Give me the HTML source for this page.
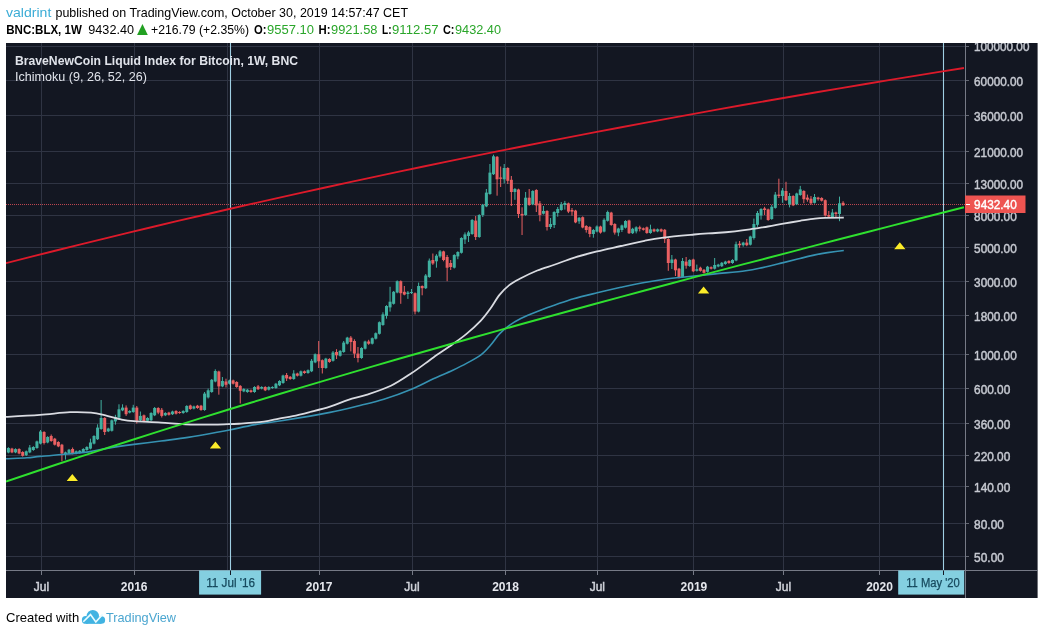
<!DOCTYPE html>
<html><head><meta charset="utf-8"><title>BNC:BLX chart</title>
<style>html,body{margin:0;padding:0;background:#fff}body{width:1044px;height:635px;overflow:hidden}</style></head>
<body>
<svg width="1044" height="635" viewBox="0 0 1044 635" style="display:block">
<rect x="0" y="0" width="1044" height="635" fill="#fff"/>
<rect x="6" y="43" width="1031.6" height="555" fill="#131722"/>
<g stroke="#2f3443" stroke-width="1" shape-rendering="crispEdges">
<line x1="41.5" y1="43" x2="41.5" y2="570.5"/>
<line x1="134.3" y1="43" x2="134.3" y2="570.5"/>
<line x1="227.5" y1="43" x2="227.5" y2="570.5"/>
<line x1="319.4" y1="43" x2="319.4" y2="570.5"/>
<line x1="412.5" y1="43" x2="412.5" y2="570.5"/>
<line x1="505.5" y1="43" x2="505.5" y2="570.5"/>
<line x1="597.5" y1="43" x2="597.5" y2="570.5"/>
<line x1="693.9" y1="43" x2="693.9" y2="570.5"/>
<line x1="783.5" y1="43" x2="783.5" y2="570.5"/>
<line x1="879.5" y1="43" x2="879.5" y2="570.5"/>
<line x1="6" y1="46.5" x2="965.5" y2="46.5"/>
<line x1="6" y1="80.4" x2="965.5" y2="80.4"/>
<line x1="6" y1="115.4" x2="965.5" y2="115.4"/>
<line x1="6" y1="151.4" x2="965.5" y2="151.4"/>
<line x1="6" y1="183.4" x2="965.5" y2="183.4"/>
<line x1="6" y1="215.4" x2="965.5" y2="215.4"/>
<line x1="6" y1="247.4" x2="965.5" y2="247.4"/>
<line x1="6" y1="281.6" x2="965.5" y2="281.6"/>
<line x1="6" y1="315.8" x2="965.5" y2="315.8"/>
<line x1="6" y1="354.5" x2="965.5" y2="354.5"/>
<line x1="6" y1="388.5" x2="965.5" y2="388.5"/>
<line x1="6" y1="423.8" x2="965.5" y2="423.8"/>
<line x1="6" y1="455.8" x2="965.5" y2="455.8"/>
<line x1="6" y1="486.9" x2="965.5" y2="486.9"/>
<line x1="6" y1="523.6" x2="965.5" y2="523.6"/>
<line x1="6" y1="556.2" x2="965.5" y2="556.2"/>
</g>
<clipPath id="cp"><rect x="6" y="43" width="959.5" height="527.5"/></clipPath>
<g clip-path="url(#cp)">
<line x1="6" y1="204.5" x2="965.5" y2="204.5" stroke="#e8525c" stroke-opacity="0.8" stroke-width="1" stroke-dasharray="1 1"/>
<line x1="8.40" y1="447.2" x2="8.40" y2="453.3" stroke="#40b0a0" stroke-width="1"/>
<rect x="6.90" y="448.0" width="3" height="4.5" fill="#40b0a0"/>
<line x1="11.97" y1="447.8" x2="11.97" y2="453.2" stroke="#ea6062" stroke-width="1"/>
<rect x="10.47" y="448.6" width="3" height="3.8" fill="#ea6062"/>
<line x1="15.53" y1="448.3" x2="15.53" y2="453.2" stroke="#40b0a0" stroke-width="1"/>
<rect x="14.03" y="449.1" width="3" height="3.3" fill="#40b0a0"/>
<line x1="19.10" y1="448.2" x2="19.10" y2="454.3" stroke="#ea6062" stroke-width="1"/>
<rect x="17.60" y="449.0" width="3" height="4.5" fill="#ea6062"/>
<line x1="22.67" y1="451.2" x2="22.67" y2="456.6" stroke="#ea6062" stroke-width="1"/>
<rect x="21.17" y="452.0" width="3" height="3.8" fill="#ea6062"/>
<line x1="26.23" y1="450.5" x2="26.23" y2="456.0" stroke="#40b0a0" stroke-width="1"/>
<rect x="24.73" y="451.3" width="3" height="3.9" fill="#40b0a0"/>
<line x1="29.80" y1="445.0" x2="29.80" y2="453.2" stroke="#40b0a0" stroke-width="1"/>
<rect x="28.30" y="447.5" width="3" height="4.9" fill="#40b0a0"/>
<line x1="33.37" y1="446.2" x2="33.37" y2="450.8" stroke="#40b0a0" stroke-width="1"/>
<rect x="31.87" y="447.0" width="3" height="3.0" fill="#40b0a0"/>
<line x1="36.94" y1="440.6" x2="36.94" y2="448.8" stroke="#40b0a0" stroke-width="1"/>
<rect x="35.44" y="441.4" width="3" height="6.6" fill="#40b0a0"/>
<line x1="40.50" y1="430.0" x2="40.50" y2="444.4" stroke="#40b0a0" stroke-width="1"/>
<rect x="39.00" y="431.5" width="3" height="12.1" fill="#40b0a0"/>
<line x1="44.07" y1="431.2" x2="44.07" y2="444.5" stroke="#ea6062" stroke-width="1"/>
<rect x="42.57" y="432.0" width="3" height="11.0" fill="#ea6062"/>
<line x1="47.64" y1="436.2" x2="47.64" y2="443.3" stroke="#40b0a0" stroke-width="1"/>
<rect x="46.14" y="437.0" width="3" height="5.5" fill="#40b0a0"/>
<line x1="51.20" y1="434.5" x2="51.20" y2="441.8" stroke="#ea6062" stroke-width="1"/>
<rect x="49.70" y="436.0" width="3" height="5.0" fill="#ea6062"/>
<line x1="54.77" y1="437.9" x2="54.77" y2="445.5" stroke="#ea6062" stroke-width="1"/>
<rect x="53.27" y="438.7" width="3" height="6.0" fill="#ea6062"/>
<line x1="58.34" y1="441.2" x2="58.34" y2="447.2" stroke="#ea6062" stroke-width="1"/>
<rect x="56.84" y="442.0" width="3" height="4.4" fill="#ea6062"/>
<line x1="61.91" y1="443.9" x2="61.91" y2="461.3" stroke="#ea6062" stroke-width="1"/>
<rect x="60.41" y="444.7" width="3" height="8.8" fill="#ea6062"/>
<line x1="65.47" y1="451.6" x2="65.47" y2="459.6" stroke="#40b0a0" stroke-width="1"/>
<rect x="63.97" y="452.4" width="3" height="1.6" fill="#40b0a0"/>
<line x1="69.04" y1="448.9" x2="69.04" y2="454.3" stroke="#40b0a0" stroke-width="1"/>
<rect x="67.54" y="449.7" width="3" height="3.8" fill="#40b0a0"/>
<line x1="72.61" y1="447.5" x2="72.61" y2="454.3" stroke="#ea6062" stroke-width="1"/>
<rect x="71.11" y="449.0" width="3" height="4.5" fill="#ea6062"/>
<line x1="76.17" y1="450.5" x2="76.17" y2="454.3" stroke="#40b0a0" stroke-width="1"/>
<rect x="74.67" y="451.3" width="3" height="2.2" fill="#40b0a0"/>
<line x1="79.74" y1="450.0" x2="79.74" y2="453.8" stroke="#40b0a0" stroke-width="1"/>
<rect x="78.24" y="450.8" width="3" height="2.2" fill="#40b0a0"/>
<line x1="83.31" y1="448.2" x2="83.31" y2="452.8" stroke="#40b0a0" stroke-width="1"/>
<rect x="81.81" y="449.0" width="3" height="3.0" fill="#40b0a0"/>
<line x1="86.87" y1="446.2" x2="86.87" y2="450.8" stroke="#40b0a0" stroke-width="1"/>
<rect x="85.37" y="447.0" width="3" height="3.0" fill="#40b0a0"/>
<line x1="90.44" y1="438.7" x2="90.44" y2="449.4" stroke="#40b0a0" stroke-width="1"/>
<rect x="88.94" y="442.5" width="3" height="6.1" fill="#40b0a0"/>
<line x1="94.01" y1="435.2" x2="94.01" y2="444.4" stroke="#40b0a0" stroke-width="1"/>
<rect x="92.51" y="436.0" width="3" height="7.6" fill="#40b0a0"/>
<line x1="97.58" y1="424.3" x2="97.58" y2="440.0" stroke="#40b0a0" stroke-width="1"/>
<rect x="96.08" y="427.6" width="3" height="11.6" fill="#40b0a0"/>
<line x1="101.14" y1="400.0" x2="101.14" y2="429.8" stroke="#40b0a0" stroke-width="1"/>
<rect x="99.64" y="418.0" width="3" height="11.0" fill="#40b0a0"/>
<line x1="104.71" y1="417.2" x2="104.71" y2="435.0" stroke="#ea6062" stroke-width="1"/>
<rect x="103.21" y="418.0" width="3" height="14.0" fill="#ea6062"/>
<line x1="108.28" y1="427.7" x2="108.28" y2="432.1" stroke="#40b0a0" stroke-width="1"/>
<rect x="106.78" y="428.5" width="3" height="2.8" fill="#40b0a0"/>
<line x1="111.84" y1="419.5" x2="111.84" y2="431.6" stroke="#40b0a0" stroke-width="1"/>
<rect x="110.34" y="420.3" width="3" height="10.5" fill="#40b0a0"/>
<line x1="115.41" y1="414.8" x2="115.41" y2="424.7" stroke="#40b0a0" stroke-width="1"/>
<rect x="113.91" y="417.0" width="3" height="4.4" fill="#40b0a0"/>
<line x1="118.98" y1="404.3" x2="118.98" y2="418.3" stroke="#40b0a0" stroke-width="1"/>
<rect x="117.48" y="409.3" width="3" height="8.2" fill="#40b0a0"/>
<line x1="122.54" y1="404.3" x2="122.54" y2="411.2" stroke="#40b0a0" stroke-width="1"/>
<rect x="121.04" y="407.6" width="3" height="2.8" fill="#40b0a0"/>
<line x1="126.11" y1="405.4" x2="126.11" y2="415.9" stroke="#ea6062" stroke-width="1"/>
<rect x="124.61" y="407.6" width="3" height="6.6" fill="#ea6062"/>
<line x1="129.68" y1="410.2" x2="129.68" y2="413.4" stroke="#40b0a0" stroke-width="1"/>
<rect x="128.18" y="411.0" width="3" height="1.6" fill="#40b0a0"/>
<line x1="133.25" y1="404.8" x2="133.25" y2="412.8" stroke="#40b0a0" stroke-width="1"/>
<rect x="131.75" y="407.6" width="3" height="4.4" fill="#40b0a0"/>
<line x1="136.81" y1="406.0" x2="136.81" y2="423.6" stroke="#ea6062" stroke-width="1"/>
<rect x="135.31" y="407.6" width="3" height="13.2" fill="#ea6062"/>
<line x1="140.38" y1="411.5" x2="140.38" y2="421.1" stroke="#40b0a0" stroke-width="1"/>
<rect x="138.88" y="415.9" width="3" height="4.4" fill="#40b0a0"/>
<line x1="143.95" y1="414.5" x2="143.95" y2="422.2" stroke="#ea6062" stroke-width="1"/>
<rect x="142.45" y="415.3" width="3" height="6.1" fill="#ea6062"/>
<line x1="147.51" y1="417.2" x2="147.51" y2="421.6" stroke="#40b0a0" stroke-width="1"/>
<rect x="146.01" y="418.0" width="3" height="2.8" fill="#40b0a0"/>
<line x1="151.08" y1="412.2" x2="151.08" y2="421.1" stroke="#40b0a0" stroke-width="1"/>
<rect x="149.58" y="413.0" width="3" height="7.3" fill="#40b0a0"/>
<line x1="154.65" y1="407.0" x2="154.65" y2="416.1" stroke="#40b0a0" stroke-width="1"/>
<rect x="153.15" y="408.0" width="3" height="7.3" fill="#40b0a0"/>
<line x1="158.21" y1="407.2" x2="158.21" y2="414.2" stroke="#ea6062" stroke-width="1"/>
<rect x="156.71" y="408.0" width="3" height="4.6" fill="#ea6062"/>
<line x1="161.78" y1="408.0" x2="161.78" y2="417.5" stroke="#ea6062" stroke-width="1"/>
<rect x="160.28" y="409.8" width="3" height="6.1" fill="#ea6062"/>
<line x1="165.35" y1="412.2" x2="165.35" y2="416.1" stroke="#40b0a0" stroke-width="1"/>
<rect x="163.85" y="413.0" width="3" height="2.3" fill="#40b0a0"/>
<line x1="168.92" y1="411.8" x2="168.92" y2="415.6" stroke="#ea6062" stroke-width="1"/>
<rect x="167.42" y="412.6" width="3" height="2.2" fill="#ea6062"/>
<line x1="172.48" y1="410.7" x2="172.48" y2="415.0" stroke="#40b0a0" stroke-width="1"/>
<rect x="170.98" y="411.5" width="3" height="2.7" fill="#40b0a0"/>
<line x1="176.05" y1="410.2" x2="176.05" y2="414.5" stroke="#ea6062" stroke-width="1"/>
<rect x="174.55" y="411.0" width="3" height="2.7" fill="#ea6062"/>
<line x1="179.62" y1="411.2" x2="179.62" y2="413.8" stroke="#ea6062" stroke-width="1"/>
<rect x="178.12" y="412.0" width="3" height="1.0" fill="#ea6062"/>
<line x1="183.18" y1="410.2" x2="183.18" y2="413.8" stroke="#40b0a0" stroke-width="1"/>
<rect x="181.68" y="411.0" width="3" height="2.0" fill="#40b0a0"/>
<line x1="186.75" y1="405.2" x2="186.75" y2="412.8" stroke="#40b0a0" stroke-width="1"/>
<rect x="185.25" y="406.0" width="3" height="6.0" fill="#40b0a0"/>
<line x1="190.32" y1="404.7" x2="190.32" y2="409.8" stroke="#ea6062" stroke-width="1"/>
<rect x="188.82" y="405.5" width="3" height="3.5" fill="#ea6062"/>
<line x1="193.88" y1="405.6" x2="193.88" y2="409.4" stroke="#40b0a0" stroke-width="1"/>
<rect x="192.38" y="406.4" width="3" height="2.2" fill="#40b0a0"/>
<line x1="197.45" y1="404.9" x2="197.45" y2="408.8" stroke="#ea6062" stroke-width="1"/>
<rect x="195.95" y="405.7" width="3" height="2.3" fill="#ea6062"/>
<line x1="201.02" y1="404.9" x2="201.02" y2="410.8" stroke="#ea6062" stroke-width="1"/>
<rect x="199.52" y="405.7" width="3" height="4.3" fill="#ea6062"/>
<line x1="204.59" y1="392.0" x2="204.59" y2="410.8" stroke="#40b0a0" stroke-width="1"/>
<rect x="203.09" y="393.6" width="3" height="16.4" fill="#40b0a0"/>
<line x1="208.15" y1="388.6" x2="208.15" y2="398.5" stroke="#40b0a0" stroke-width="1"/>
<rect x="206.65" y="390.3" width="3" height="7.1" fill="#40b0a0"/>
<line x1="211.72" y1="379.0" x2="211.72" y2="392.8" stroke="#40b0a0" stroke-width="1"/>
<rect x="210.22" y="379.8" width="3" height="12.2" fill="#40b0a0"/>
<line x1="215.29" y1="369.3" x2="215.29" y2="382.3" stroke="#40b0a0" stroke-width="1"/>
<rect x="213.79" y="371.0" width="3" height="10.5" fill="#40b0a0"/>
<line x1="218.85" y1="370.7" x2="218.85" y2="394.7" stroke="#ea6062" stroke-width="1"/>
<rect x="217.35" y="371.5" width="3" height="14.9" fill="#ea6062"/>
<line x1="222.42" y1="377.0" x2="222.42" y2="387.2" stroke="#40b0a0" stroke-width="1"/>
<rect x="220.92" y="381.0" width="3" height="5.4" fill="#40b0a0"/>
<line x1="225.99" y1="378.7" x2="225.99" y2="387.5" stroke="#ea6062" stroke-width="1"/>
<rect x="224.49" y="381.5" width="3" height="3.3" fill="#ea6062"/>
<line x1="229.55" y1="379.6" x2="229.55" y2="384.5" stroke="#40b0a0" stroke-width="1"/>
<rect x="228.05" y="380.4" width="3" height="3.3" fill="#40b0a0"/>
<line x1="233.12" y1="379.6" x2="233.12" y2="384.5" stroke="#ea6062" stroke-width="1"/>
<rect x="231.62" y="380.4" width="3" height="3.3" fill="#ea6062"/>
<line x1="236.69" y1="381.2" x2="236.69" y2="387.8" stroke="#ea6062" stroke-width="1"/>
<rect x="235.19" y="382.0" width="3" height="5.0" fill="#ea6062"/>
<line x1="240.26" y1="385.1" x2="240.26" y2="403.5" stroke="#ea6062" stroke-width="1"/>
<rect x="238.76" y="385.9" width="3" height="4.9" fill="#ea6062"/>
<line x1="243.82" y1="388.2" x2="243.82" y2="392.2" stroke="#40b0a0" stroke-width="1"/>
<rect x="242.32" y="389.0" width="3" height="2.4" fill="#40b0a0"/>
<line x1="247.39" y1="388.9" x2="247.39" y2="392.8" stroke="#40b0a0" stroke-width="1"/>
<rect x="245.89" y="389.7" width="3" height="2.3" fill="#40b0a0"/>
<line x1="250.96" y1="389.5" x2="250.96" y2="392.8" stroke="#ea6062" stroke-width="1"/>
<rect x="249.46" y="390.3" width="3" height="1.7" fill="#ea6062"/>
<line x1="254.52" y1="386.2" x2="254.52" y2="392.8" stroke="#40b0a0" stroke-width="1"/>
<rect x="253.02" y="387.0" width="3" height="5.0" fill="#40b0a0"/>
<line x1="258.09" y1="385.0" x2="258.09" y2="390.0" stroke="#ea6062" stroke-width="1"/>
<rect x="256.59" y="386.4" width="3" height="2.8" fill="#ea6062"/>
<line x1="261.66" y1="386.2" x2="261.66" y2="389.4" stroke="#40b0a0" stroke-width="1"/>
<rect x="260.16" y="387.0" width="3" height="1.6" fill="#40b0a0"/>
<line x1="265.22" y1="386.2" x2="265.22" y2="391.1" stroke="#ea6062" stroke-width="1"/>
<rect x="263.72" y="387.0" width="3" height="3.3" fill="#ea6062"/>
<line x1="268.79" y1="386.2" x2="268.79" y2="390.5" stroke="#40b0a0" stroke-width="1"/>
<rect x="267.29" y="387.0" width="3" height="2.7" fill="#40b0a0"/>
<line x1="272.36" y1="386.2" x2="272.36" y2="388.8" stroke="#40b0a0" stroke-width="1"/>
<rect x="270.86" y="387.0" width="3" height="1.0" fill="#40b0a0"/>
<line x1="275.93" y1="382.9" x2="275.93" y2="388.8" stroke="#40b0a0" stroke-width="1"/>
<rect x="274.43" y="383.7" width="3" height="4.3" fill="#40b0a0"/>
<line x1="279.49" y1="380.2" x2="279.49" y2="386.1" stroke="#40b0a0" stroke-width="1"/>
<rect x="277.99" y="381.0" width="3" height="4.3" fill="#40b0a0"/>
<line x1="283.06" y1="374.7" x2="283.06" y2="383.8" stroke="#40b0a0" stroke-width="1"/>
<rect x="281.56" y="375.5" width="3" height="7.5" fill="#40b0a0"/>
<line x1="286.63" y1="373.0" x2="286.63" y2="381.0" stroke="#ea6062" stroke-width="1"/>
<rect x="285.13" y="375.0" width="3" height="3.4" fill="#ea6062"/>
<line x1="290.19" y1="376.0" x2="290.19" y2="379.8" stroke="#ea6062" stroke-width="1"/>
<rect x="288.69" y="376.8" width="3" height="2.2" fill="#ea6062"/>
<line x1="293.76" y1="370.2" x2="293.76" y2="379.8" stroke="#40b0a0" stroke-width="1"/>
<rect x="292.26" y="373.5" width="3" height="5.5" fill="#40b0a0"/>
<line x1="297.33" y1="372.7" x2="297.33" y2="376.5" stroke="#ea6062" stroke-width="1"/>
<rect x="295.83" y="373.5" width="3" height="2.2" fill="#ea6062"/>
<line x1="300.89" y1="370.5" x2="300.89" y2="376.5" stroke="#40b0a0" stroke-width="1"/>
<rect x="299.39" y="371.3" width="3" height="4.4" fill="#40b0a0"/>
<line x1="304.46" y1="370.5" x2="304.46" y2="373.8" stroke="#ea6062" stroke-width="1"/>
<rect x="302.96" y="371.3" width="3" height="1.7" fill="#ea6062"/>
<line x1="308.03" y1="369.4" x2="308.03" y2="373.8" stroke="#40b0a0" stroke-width="1"/>
<rect x="306.53" y="370.2" width="3" height="2.8" fill="#40b0a0"/>
<line x1="311.59" y1="359.0" x2="311.59" y2="372.1" stroke="#40b0a0" stroke-width="1"/>
<rect x="310.09" y="360.8" width="3" height="10.5" fill="#40b0a0"/>
<line x1="315.16" y1="353.4" x2="315.16" y2="363.2" stroke="#40b0a0" stroke-width="1"/>
<rect x="313.66" y="354.2" width="3" height="8.2" fill="#40b0a0"/>
<line x1="318.73" y1="341.0" x2="318.73" y2="368.0" stroke="#ea6062" stroke-width="1"/>
<rect x="317.23" y="354.2" width="3" height="7.1" fill="#ea6062"/>
<line x1="322.30" y1="359.4" x2="322.30" y2="373.5" stroke="#ea6062" stroke-width="1"/>
<rect x="320.80" y="360.2" width="3" height="7.8" fill="#ea6062"/>
<line x1="325.86" y1="357.8" x2="325.86" y2="368.8" stroke="#40b0a0" stroke-width="1"/>
<rect x="324.36" y="358.6" width="3" height="9.4" fill="#40b0a0"/>
<line x1="329.43" y1="358.2" x2="329.43" y2="362.8" stroke="#ea6062" stroke-width="1"/>
<rect x="327.93" y="359.0" width="3" height="3.0" fill="#ea6062"/>
<line x1="333.00" y1="351.0" x2="333.00" y2="361.6" stroke="#40b0a0" stroke-width="1"/>
<rect x="331.50" y="352.5" width="3" height="8.3" fill="#40b0a0"/>
<line x1="336.56" y1="349.2" x2="336.56" y2="359.0" stroke="#ea6062" stroke-width="1"/>
<rect x="335.06" y="352.0" width="3" height="3.3" fill="#ea6062"/>
<line x1="340.13" y1="350.1" x2="340.13" y2="356.6" stroke="#40b0a0" stroke-width="1"/>
<rect x="338.63" y="350.9" width="3" height="4.9" fill="#40b0a0"/>
<line x1="343.70" y1="341.0" x2="343.70" y2="352.8" stroke="#40b0a0" stroke-width="1"/>
<rect x="342.20" y="342.6" width="3" height="9.4" fill="#40b0a0"/>
<line x1="347.26" y1="336.8" x2="347.26" y2="344.5" stroke="#40b0a0" stroke-width="1"/>
<rect x="345.76" y="337.6" width="3" height="6.1" fill="#40b0a0"/>
<line x1="350.83" y1="336.0" x2="350.83" y2="351.4" stroke="#ea6062" stroke-width="1"/>
<rect x="349.33" y="337.6" width="3" height="4.4" fill="#ea6062"/>
<line x1="354.40" y1="339.3" x2="354.40" y2="358.0" stroke="#ea6062" stroke-width="1"/>
<rect x="352.90" y="341.0" width="3" height="12.6" fill="#ea6062"/>
<line x1="357.97" y1="347.0" x2="357.97" y2="362.4" stroke="#ea6062" stroke-width="1"/>
<rect x="356.47" y="353.6" width="3" height="4.4" fill="#ea6062"/>
<line x1="361.53" y1="347.2" x2="361.53" y2="358.8" stroke="#40b0a0" stroke-width="1"/>
<rect x="360.03" y="348.0" width="3" height="10.0" fill="#40b0a0"/>
<line x1="365.10" y1="340.7" x2="365.10" y2="349.5" stroke="#40b0a0" stroke-width="1"/>
<rect x="363.60" y="341.5" width="3" height="7.2" fill="#40b0a0"/>
<line x1="368.67" y1="339.8" x2="368.67" y2="344.8" stroke="#ea6062" stroke-width="1"/>
<rect x="367.17" y="341.5" width="3" height="2.2" fill="#ea6062"/>
<line x1="372.23" y1="337.4" x2="372.23" y2="344.5" stroke="#40b0a0" stroke-width="1"/>
<rect x="370.73" y="338.2" width="3" height="5.5" fill="#40b0a0"/>
<line x1="375.80" y1="332.4" x2="375.80" y2="339.5" stroke="#40b0a0" stroke-width="1"/>
<rect x="374.30" y="333.2" width="3" height="5.5" fill="#40b0a0"/>
<line x1="379.37" y1="321.4" x2="379.37" y2="334.6" stroke="#40b0a0" stroke-width="1"/>
<rect x="377.87" y="322.2" width="3" height="11.6" fill="#40b0a0"/>
<line x1="382.94" y1="312.3" x2="382.94" y2="325.8" stroke="#40b0a0" stroke-width="1"/>
<rect x="381.44" y="314.4" width="3" height="10.6" fill="#40b0a0"/>
<line x1="386.50" y1="305.2" x2="386.50" y2="318.7" stroke="#40b0a0" stroke-width="1"/>
<rect x="385.00" y="306.0" width="3" height="9.9" fill="#40b0a0"/>
<line x1="390.07" y1="286.8" x2="390.07" y2="311.6" stroke="#40b0a0" stroke-width="1"/>
<rect x="388.57" y="301.7" width="3" height="5.7" fill="#40b0a0"/>
<line x1="393.64" y1="291.0" x2="393.64" y2="304.6" stroke="#40b0a0" stroke-width="1"/>
<rect x="392.14" y="291.8" width="3" height="12.0" fill="#40b0a0"/>
<line x1="397.20" y1="280.4" x2="397.20" y2="293.3" stroke="#40b0a0" stroke-width="1"/>
<rect x="395.70" y="281.2" width="3" height="11.3" fill="#40b0a0"/>
<line x1="400.77" y1="280.4" x2="400.77" y2="303.8" stroke="#ea6062" stroke-width="1"/>
<rect x="399.27" y="281.2" width="3" height="12.0" fill="#ea6062"/>
<line x1="404.34" y1="286.0" x2="404.34" y2="295.3" stroke="#ea6062" stroke-width="1"/>
<rect x="402.84" y="291.8" width="3" height="2.8" fill="#ea6062"/>
<line x1="407.90" y1="291.0" x2="407.90" y2="298.9" stroke="#40b0a0" stroke-width="1"/>
<rect x="406.40" y="292.5" width="3" height="1.5" fill="#40b0a0"/>
<line x1="411.47" y1="289.0" x2="411.47" y2="294.0" stroke="#40b0a0" stroke-width="1"/>
<rect x="409.97" y="292.0" width="3" height="1.0" fill="#40b0a0"/>
<line x1="415.04" y1="292.4" x2="415.04" y2="314.4" stroke="#ea6062" stroke-width="1"/>
<rect x="413.54" y="293.2" width="3" height="18.4" fill="#ea6062"/>
<line x1="418.61" y1="282.6" x2="418.61" y2="312.4" stroke="#40b0a0" stroke-width="1"/>
<rect x="417.11" y="286.0" width="3" height="25.6" fill="#40b0a0"/>
<line x1="422.17" y1="285.4" x2="422.17" y2="295.3" stroke="#ea6062" stroke-width="1"/>
<rect x="420.67" y="286.0" width="3" height="2.2" fill="#ea6062"/>
<line x1="425.74" y1="274.0" x2="425.74" y2="289.0" stroke="#40b0a0" stroke-width="1"/>
<rect x="424.24" y="275.5" width="3" height="12.7" fill="#40b0a0"/>
<line x1="429.31" y1="258.5" x2="429.31" y2="277.8" stroke="#40b0a0" stroke-width="1"/>
<rect x="427.81" y="260.6" width="3" height="16.4" fill="#40b0a0"/>
<line x1="432.87" y1="253.5" x2="432.87" y2="264.9" stroke="#ea6062" stroke-width="1"/>
<rect x="431.37" y="260.0" width="3" height="3.5" fill="#ea6062"/>
<line x1="436.44" y1="254.2" x2="436.44" y2="267.7" stroke="#40b0a0" stroke-width="1"/>
<rect x="434.94" y="255.7" width="3" height="5.6" fill="#40b0a0"/>
<line x1="440.01" y1="250.0" x2="440.01" y2="257.8" stroke="#40b0a0" stroke-width="1"/>
<rect x="438.51" y="251.4" width="3" height="5.0" fill="#40b0a0"/>
<line x1="443.57" y1="250.7" x2="443.57" y2="261.3" stroke="#ea6062" stroke-width="1"/>
<rect x="442.07" y="251.4" width="3" height="8.6" fill="#ea6062"/>
<line x1="447.14" y1="255.0" x2="447.14" y2="281.2" stroke="#ea6062" stroke-width="1"/>
<rect x="445.64" y="257.0" width="3" height="10.7" fill="#ea6062"/>
<line x1="450.71" y1="260.0" x2="450.71" y2="270.0" stroke="#ea6062" stroke-width="1"/>
<rect x="449.21" y="263.0" width="3" height="4.0" fill="#ea6062"/>
<line x1="454.27" y1="254.2" x2="454.27" y2="268.5" stroke="#40b0a0" stroke-width="1"/>
<rect x="452.77" y="255.0" width="3" height="12.7" fill="#40b0a0"/>
<line x1="457.84" y1="251.2" x2="457.84" y2="259.2" stroke="#40b0a0" stroke-width="1"/>
<rect x="456.34" y="252.0" width="3" height="4.4" fill="#40b0a0"/>
<line x1="461.41" y1="237.2" x2="461.41" y2="253.6" stroke="#40b0a0" stroke-width="1"/>
<rect x="459.91" y="238.0" width="3" height="14.8" fill="#40b0a0"/>
<line x1="464.98" y1="232.4" x2="464.98" y2="244.0" stroke="#40b0a0" stroke-width="1"/>
<rect x="463.48" y="234.4" width="3" height="5.1" fill="#40b0a0"/>
<line x1="468.54" y1="230.8" x2="468.54" y2="242.0" stroke="#40b0a0" stroke-width="1"/>
<rect x="467.04" y="232.4" width="3" height="3.6" fill="#40b0a0"/>
<line x1="472.11" y1="219.0" x2="472.11" y2="234.8" stroke="#40b0a0" stroke-width="1"/>
<rect x="470.61" y="220.0" width="3" height="14.0" fill="#40b0a0"/>
<line x1="475.68" y1="216.0" x2="475.68" y2="240.0" stroke="#ea6062" stroke-width="1"/>
<rect x="474.18" y="220.6" width="3" height="16.4" fill="#ea6062"/>
<line x1="479.24" y1="214.2" x2="479.24" y2="237.8" stroke="#40b0a0" stroke-width="1"/>
<rect x="477.74" y="215.0" width="3" height="22.0" fill="#40b0a0"/>
<line x1="482.81" y1="203.9" x2="482.81" y2="217.0" stroke="#40b0a0" stroke-width="1"/>
<rect x="481.31" y="204.7" width="3" height="10.3" fill="#40b0a0"/>
<line x1="486.38" y1="189.0" x2="486.38" y2="207.2" stroke="#40b0a0" stroke-width="1"/>
<rect x="484.88" y="192.6" width="3" height="13.8" fill="#40b0a0"/>
<line x1="489.94" y1="164.0" x2="489.94" y2="194.8" stroke="#40b0a0" stroke-width="1"/>
<rect x="488.44" y="172.6" width="3" height="21.4" fill="#40b0a0"/>
<line x1="493.51" y1="154.7" x2="493.51" y2="175.0" stroke="#40b0a0" stroke-width="1"/>
<rect x="492.01" y="156.3" width="3" height="17.9" fill="#40b0a0"/>
<line x1="497.08" y1="156.0" x2="497.08" y2="195.7" stroke="#ea6062" stroke-width="1"/>
<rect x="495.58" y="156.8" width="3" height="22.5" fill="#ea6062"/>
<line x1="500.65" y1="166.5" x2="500.65" y2="187.0" stroke="#ea6062" stroke-width="1"/>
<rect x="499.15" y="177.5" width="3" height="1.3" fill="#ea6062"/>
<line x1="504.21" y1="164.0" x2="504.21" y2="183.4" stroke="#40b0a0" stroke-width="1"/>
<rect x="502.71" y="168.0" width="3" height="11.3" fill="#40b0a0"/>
<line x1="507.78" y1="167.2" x2="507.78" y2="184.0" stroke="#ea6062" stroke-width="1"/>
<rect x="506.28" y="168.0" width="3" height="12.8" fill="#ea6062"/>
<line x1="511.35" y1="176.0" x2="511.35" y2="206.0" stroke="#ea6062" stroke-width="1"/>
<rect x="509.85" y="179.8" width="3" height="12.2" fill="#ea6062"/>
<line x1="514.91" y1="188.0" x2="514.91" y2="199.8" stroke="#40b0a0" stroke-width="1"/>
<rect x="513.41" y="189.0" width="3" height="3.0" fill="#40b0a0"/>
<line x1="518.48" y1="188.7" x2="518.48" y2="218.0" stroke="#ea6062" stroke-width="1"/>
<rect x="516.98" y="189.5" width="3" height="24.5" fill="#ea6062"/>
<line x1="522.05" y1="207.3" x2="522.05" y2="235.0" stroke="#ea6062" stroke-width="1"/>
<rect x="520.55" y="213.9" width="3" height="1.6" fill="#ea6062"/>
<line x1="525.62" y1="192.0" x2="525.62" y2="215.8" stroke="#40b0a0" stroke-width="1"/>
<rect x="524.12" y="197.7" width="3" height="17.3" fill="#40b0a0"/>
<line x1="529.18" y1="189.0" x2="529.18" y2="205.8" stroke="#ea6062" stroke-width="1"/>
<rect x="527.68" y="197.7" width="3" height="7.3" fill="#ea6062"/>
<line x1="532.75" y1="190.2" x2="532.75" y2="205.2" stroke="#40b0a0" stroke-width="1"/>
<rect x="531.25" y="191.0" width="3" height="13.4" fill="#40b0a0"/>
<line x1="536.32" y1="189.2" x2="536.32" y2="212.0" stroke="#ea6062" stroke-width="1"/>
<rect x="534.82" y="190.0" width="3" height="15.4" fill="#ea6062"/>
<line x1="539.88" y1="201.0" x2="539.88" y2="221.3" stroke="#ea6062" stroke-width="1"/>
<rect x="538.38" y="203.4" width="3" height="11.6" fill="#ea6062"/>
<line x1="543.45" y1="206.0" x2="543.45" y2="214.5" stroke="#40b0a0" stroke-width="1"/>
<rect x="541.95" y="211.0" width="3" height="2.7" fill="#40b0a0"/>
<line x1="547.02" y1="210.2" x2="547.02" y2="230.5" stroke="#ea6062" stroke-width="1"/>
<rect x="545.52" y="211.0" width="3" height="16.0" fill="#ea6062"/>
<line x1="550.58" y1="218.0" x2="550.58" y2="229.0" stroke="#40b0a0" stroke-width="1"/>
<rect x="549.08" y="224.0" width="3" height="3.0" fill="#40b0a0"/>
<line x1="554.15" y1="211.2" x2="554.15" y2="228.0" stroke="#40b0a0" stroke-width="1"/>
<rect x="552.65" y="212.0" width="3" height="13.0" fill="#40b0a0"/>
<line x1="557.72" y1="207.0" x2="557.72" y2="216.7" stroke="#40b0a0" stroke-width="1"/>
<rect x="556.22" y="209.0" width="3" height="4.0" fill="#40b0a0"/>
<line x1="561.28" y1="202.0" x2="561.28" y2="210.8" stroke="#40b0a0" stroke-width="1"/>
<rect x="559.78" y="204.4" width="3" height="5.6" fill="#40b0a0"/>
<line x1="564.85" y1="200.9" x2="564.85" y2="209.6" stroke="#40b0a0" stroke-width="1"/>
<rect x="563.35" y="203.0" width="3" height="2.0" fill="#40b0a0"/>
<line x1="568.42" y1="202.6" x2="568.42" y2="213.1" stroke="#ea6062" stroke-width="1"/>
<rect x="566.92" y="203.4" width="3" height="8.2" fill="#ea6062"/>
<line x1="571.99" y1="208.0" x2="571.99" y2="215.7" stroke="#ea6062" stroke-width="1"/>
<rect x="570.49" y="210.0" width="3" height="1.6" fill="#ea6062"/>
<line x1="575.55" y1="209.8" x2="575.55" y2="223.2" stroke="#ea6062" stroke-width="1"/>
<rect x="574.05" y="210.6" width="3" height="11.8" fill="#ea6062"/>
<line x1="579.12" y1="217.0" x2="579.12" y2="223.9" stroke="#40b0a0" stroke-width="1"/>
<rect x="577.62" y="217.8" width="3" height="3.5" fill="#40b0a0"/>
<line x1="582.69" y1="216.4" x2="582.69" y2="228.3" stroke="#ea6062" stroke-width="1"/>
<rect x="581.19" y="217.2" width="3" height="10.3" fill="#ea6062"/>
<line x1="586.25" y1="225.2" x2="586.25" y2="232.6" stroke="#ea6062" stroke-width="1"/>
<rect x="584.75" y="226.0" width="3" height="4.0" fill="#ea6062"/>
<line x1="589.82" y1="226.2" x2="589.82" y2="237.2" stroke="#ea6062" stroke-width="1"/>
<rect x="588.32" y="227.0" width="3" height="7.0" fill="#ea6062"/>
<line x1="593.39" y1="229.0" x2="593.39" y2="237.7" stroke="#40b0a0" stroke-width="1"/>
<rect x="591.89" y="230.0" width="3" height="4.0" fill="#40b0a0"/>
<line x1="596.96" y1="225.4" x2="596.96" y2="232.4" stroke="#40b0a0" stroke-width="1"/>
<rect x="595.46" y="226.5" width="3" height="5.1" fill="#40b0a0"/>
<line x1="600.52" y1="225.7" x2="600.52" y2="233.6" stroke="#ea6062" stroke-width="1"/>
<rect x="599.02" y="226.5" width="3" height="6.1" fill="#ea6062"/>
<line x1="604.09" y1="218.3" x2="604.09" y2="232.4" stroke="#40b0a0" stroke-width="1"/>
<rect x="602.59" y="219.8" width="3" height="11.8" fill="#40b0a0"/>
<line x1="607.66" y1="210.6" x2="607.66" y2="221.6" stroke="#40b0a0" stroke-width="1"/>
<rect x="606.16" y="212.0" width="3" height="8.8" fill="#40b0a0"/>
<line x1="611.22" y1="211.8" x2="611.22" y2="225.8" stroke="#ea6062" stroke-width="1"/>
<rect x="609.72" y="212.6" width="3" height="12.4" fill="#ea6062"/>
<line x1="614.79" y1="223.2" x2="614.79" y2="234.6" stroke="#ea6062" stroke-width="1"/>
<rect x="613.29" y="224.0" width="3" height="8.6" fill="#ea6062"/>
<line x1="618.36" y1="227.7" x2="618.36" y2="236.2" stroke="#40b0a0" stroke-width="1"/>
<rect x="616.86" y="228.5" width="3" height="4.1" fill="#40b0a0"/>
<line x1="621.92" y1="224.6" x2="621.92" y2="232.0" stroke="#40b0a0" stroke-width="1"/>
<rect x="620.42" y="225.4" width="3" height="4.6" fill="#40b0a0"/>
<line x1="625.49" y1="220.2" x2="625.49" y2="228.5" stroke="#40b0a0" stroke-width="1"/>
<rect x="623.99" y="221.0" width="3" height="6.7" fill="#40b0a0"/>
<line x1="629.06" y1="219.7" x2="629.06" y2="234.0" stroke="#ea6062" stroke-width="1"/>
<rect x="627.56" y="220.5" width="3" height="12.7" fill="#ea6062"/>
<line x1="632.62" y1="227.8" x2="632.62" y2="234.0" stroke="#40b0a0" stroke-width="1"/>
<rect x="631.12" y="228.8" width="3" height="4.4" fill="#40b0a0"/>
<line x1="636.19" y1="226.3" x2="636.19" y2="233.4" stroke="#40b0a0" stroke-width="1"/>
<rect x="634.69" y="227.3" width="3" height="4.1" fill="#40b0a0"/>
<line x1="639.76" y1="225.7" x2="639.76" y2="231.4" stroke="#ea6062" stroke-width="1"/>
<rect x="638.26" y="227.3" width="3" height="1.5" fill="#ea6062"/>
<line x1="643.33" y1="227.5" x2="643.33" y2="230.6" stroke="#ea6062" stroke-width="1"/>
<rect x="641.83" y="228.3" width="3" height="1.5" fill="#ea6062"/>
<line x1="646.89" y1="226.5" x2="646.89" y2="233.8" stroke="#ea6062" stroke-width="1"/>
<rect x="645.39" y="227.3" width="3" height="5.7" fill="#ea6062"/>
<line x1="650.46" y1="224.7" x2="650.46" y2="233.8" stroke="#40b0a0" stroke-width="1"/>
<rect x="648.96" y="229.3" width="3" height="3.7" fill="#40b0a0"/>
<line x1="654.03" y1="228.5" x2="654.03" y2="232.2" stroke="#ea6062" stroke-width="1"/>
<rect x="652.53" y="229.3" width="3" height="2.1" fill="#ea6062"/>
<line x1="657.59" y1="228.5" x2="657.59" y2="232.2" stroke="#40b0a0" stroke-width="1"/>
<rect x="656.09" y="229.3" width="3" height="2.1" fill="#40b0a0"/>
<line x1="661.16" y1="228.5" x2="661.16" y2="232.2" stroke="#ea6062" stroke-width="1"/>
<rect x="659.66" y="229.3" width="3" height="2.1" fill="#ea6062"/>
<line x1="664.73" y1="229.0" x2="664.73" y2="243.0" stroke="#ea6062" stroke-width="1"/>
<rect x="663.23" y="229.8" width="3" height="9.2" fill="#ea6062"/>
<line x1="668.29" y1="238.2" x2="668.29" y2="270.8" stroke="#ea6062" stroke-width="1"/>
<rect x="666.79" y="239.0" width="3" height="24.0" fill="#ea6062"/>
<line x1="671.86" y1="255.0" x2="671.86" y2="269.0" stroke="#40b0a0" stroke-width="1"/>
<rect x="670.36" y="259.5" width="3" height="3.5" fill="#40b0a0"/>
<line x1="675.43" y1="258.7" x2="675.43" y2="276.0" stroke="#ea6062" stroke-width="1"/>
<rect x="673.93" y="259.5" width="3" height="10.8" fill="#ea6062"/>
<line x1="679.00" y1="267.9" x2="679.00" y2="278.5" stroke="#ea6062" stroke-width="1"/>
<rect x="677.50" y="268.7" width="3" height="8.3" fill="#ea6062"/>
<line x1="682.56" y1="258.0" x2="682.56" y2="277.8" stroke="#40b0a0" stroke-width="1"/>
<rect x="681.06" y="261.0" width="3" height="16.0" fill="#40b0a0"/>
<line x1="686.13" y1="257.0" x2="686.13" y2="268.7" stroke="#ea6062" stroke-width="1"/>
<rect x="684.63" y="261.6" width="3" height="4.1" fill="#ea6062"/>
<line x1="689.70" y1="259.2" x2="689.70" y2="266.8" stroke="#40b0a0" stroke-width="1"/>
<rect x="688.20" y="260.0" width="3" height="6.0" fill="#40b0a0"/>
<line x1="693.26" y1="258.7" x2="693.26" y2="272.1" stroke="#ea6062" stroke-width="1"/>
<rect x="691.76" y="259.5" width="3" height="11.8" fill="#ea6062"/>
<line x1="696.83" y1="264.6" x2="696.83" y2="271.6" stroke="#40b0a0" stroke-width="1"/>
<rect x="695.33" y="269.2" width="3" height="1.6" fill="#40b0a0"/>
<line x1="700.40" y1="266.7" x2="700.40" y2="271.6" stroke="#ea6062" stroke-width="1"/>
<rect x="698.90" y="267.7" width="3" height="3.1" fill="#ea6062"/>
<line x1="703.97" y1="269.0" x2="703.97" y2="273.6" stroke="#ea6062" stroke-width="1"/>
<rect x="702.47" y="269.8" width="3" height="3.0" fill="#ea6062"/>
<line x1="707.53" y1="265.9" x2="707.53" y2="272.6" stroke="#40b0a0" stroke-width="1"/>
<rect x="706.03" y="266.7" width="3" height="5.1" fill="#40b0a0"/>
<line x1="711.10" y1="266.4" x2="711.10" y2="269.5" stroke="#ea6062" stroke-width="1"/>
<rect x="709.60" y="267.2" width="3" height="1.5" fill="#ea6062"/>
<line x1="714.67" y1="258.0" x2="714.67" y2="269.5" stroke="#40b0a0" stroke-width="1"/>
<rect x="713.17" y="265.0" width="3" height="3.7" fill="#40b0a0"/>
<line x1="718.23" y1="263.8" x2="718.23" y2="267.3" stroke="#40b0a0" stroke-width="1"/>
<rect x="716.73" y="264.6" width="3" height="1.9" fill="#40b0a0"/>
<line x1="721.80" y1="262.0" x2="721.80" y2="267.0" stroke="#40b0a0" stroke-width="1"/>
<rect x="720.30" y="262.8" width="3" height="3.4" fill="#40b0a0"/>
<line x1="725.37" y1="260.8" x2="725.37" y2="264.8" stroke="#40b0a0" stroke-width="1"/>
<rect x="723.87" y="261.6" width="3" height="2.4" fill="#40b0a0"/>
<line x1="728.93" y1="260.2" x2="728.93" y2="263.8" stroke="#ea6062" stroke-width="1"/>
<rect x="727.43" y="261.0" width="3" height="2.0" fill="#ea6062"/>
<line x1="732.50" y1="259.2" x2="732.50" y2="263.8" stroke="#40b0a0" stroke-width="1"/>
<rect x="731.00" y="260.0" width="3" height="3.0" fill="#40b0a0"/>
<line x1="736.07" y1="241.6" x2="736.07" y2="261.3" stroke="#40b0a0" stroke-width="1"/>
<rect x="734.57" y="244.2" width="3" height="16.3" fill="#40b0a0"/>
<line x1="739.63" y1="241.0" x2="739.63" y2="247.8" stroke="#ea6062" stroke-width="1"/>
<rect x="738.13" y="243.7" width="3" height="1.5" fill="#ea6062"/>
<line x1="743.20" y1="241.8" x2="743.20" y2="246.7" stroke="#40b0a0" stroke-width="1"/>
<rect x="741.70" y="242.6" width="3" height="2.6" fill="#40b0a0"/>
<line x1="746.77" y1="239.0" x2="746.77" y2="246.2" stroke="#ea6062" stroke-width="1"/>
<rect x="745.27" y="242.6" width="3" height="2.6" fill="#ea6062"/>
<line x1="750.34" y1="235.7" x2="750.34" y2="245.5" stroke="#40b0a0" stroke-width="1"/>
<rect x="748.84" y="236.5" width="3" height="8.2" fill="#40b0a0"/>
<line x1="753.90" y1="218.6" x2="753.90" y2="239.6" stroke="#40b0a0" stroke-width="1"/>
<rect x="752.40" y="224.0" width="3" height="14.0" fill="#40b0a0"/>
<line x1="757.47" y1="211.0" x2="757.47" y2="226.8" stroke="#40b0a0" stroke-width="1"/>
<rect x="755.97" y="213.0" width="3" height="11.8" fill="#40b0a0"/>
<line x1="761.04" y1="208.2" x2="761.04" y2="219.6" stroke="#40b0a0" stroke-width="1"/>
<rect x="759.54" y="209.0" width="3" height="6.5" fill="#40b0a0"/>
<line x1="764.60" y1="206.8" x2="764.60" y2="215.0" stroke="#ea6062" stroke-width="1"/>
<rect x="763.10" y="208.4" width="3" height="1.6" fill="#ea6062"/>
<line x1="768.17" y1="208.6" x2="768.17" y2="220.8" stroke="#ea6062" stroke-width="1"/>
<rect x="766.67" y="209.4" width="3" height="10.6" fill="#ea6062"/>
<line x1="771.74" y1="204.8" x2="771.74" y2="219.8" stroke="#40b0a0" stroke-width="1"/>
<rect x="770.24" y="206.8" width="3" height="12.2" fill="#40b0a0"/>
<line x1="775.31" y1="192.0" x2="775.31" y2="208.7" stroke="#40b0a0" stroke-width="1"/>
<rect x="773.81" y="194.6" width="3" height="13.3" fill="#40b0a0"/>
<line x1="778.87" y1="178.7" x2="778.87" y2="198.0" stroke="#ea6062" stroke-width="1"/>
<rect x="777.37" y="194.6" width="3" height="1.4" fill="#ea6062"/>
<line x1="782.44" y1="188.0" x2="782.44" y2="202.8" stroke="#40b0a0" stroke-width="1"/>
<rect x="780.94" y="190.5" width="3" height="5.5" fill="#40b0a0"/>
<line x1="786.01" y1="181.8" x2="786.01" y2="201.0" stroke="#ea6062" stroke-width="1"/>
<rect x="784.51" y="191.0" width="3" height="9.2" fill="#ea6062"/>
<line x1="789.57" y1="193.0" x2="789.57" y2="207.4" stroke="#40b0a0" stroke-width="1"/>
<rect x="788.07" y="196.0" width="3" height="8.3" fill="#40b0a0"/>
<line x1="793.14" y1="195.2" x2="793.14" y2="206.1" stroke="#ea6062" stroke-width="1"/>
<rect x="791.64" y="196.0" width="3" height="9.3" fill="#ea6062"/>
<line x1="796.71" y1="192.7" x2="796.71" y2="205.1" stroke="#40b0a0" stroke-width="1"/>
<rect x="795.21" y="193.5" width="3" height="10.8" fill="#40b0a0"/>
<line x1="800.27" y1="185.9" x2="800.27" y2="195.8" stroke="#40b0a0" stroke-width="1"/>
<rect x="798.77" y="189.4" width="3" height="5.6" fill="#40b0a0"/>
<line x1="803.84" y1="190.2" x2="803.84" y2="203.3" stroke="#ea6062" stroke-width="1"/>
<rect x="802.34" y="191.0" width="3" height="8.2" fill="#ea6062"/>
<line x1="807.41" y1="194.6" x2="807.41" y2="201.7" stroke="#ea6062" stroke-width="1"/>
<rect x="805.91" y="197.6" width="3" height="2.1" fill="#ea6062"/>
<line x1="810.98" y1="196.0" x2="810.98" y2="204.8" stroke="#ea6062" stroke-width="1"/>
<rect x="809.48" y="198.7" width="3" height="4.6" fill="#ea6062"/>
<line x1="814.54" y1="194.0" x2="814.54" y2="203.6" stroke="#40b0a0" stroke-width="1"/>
<rect x="813.04" y="197.0" width="3" height="5.8" fill="#40b0a0"/>
<line x1="818.11" y1="196.8" x2="818.11" y2="200.7" stroke="#ea6062" stroke-width="1"/>
<rect x="816.61" y="197.6" width="3" height="1.6" fill="#ea6062"/>
<line x1="821.68" y1="197.2" x2="821.68" y2="201.5" stroke="#ea6062" stroke-width="1"/>
<rect x="820.18" y="198.0" width="3" height="2.7" fill="#ea6062"/>
<line x1="825.24" y1="199.4" x2="825.24" y2="216.6" stroke="#ea6062" stroke-width="1"/>
<rect x="823.74" y="200.2" width="3" height="15.3" fill="#ea6062"/>
<line x1="828.81" y1="211.0" x2="828.81" y2="217.0" stroke="#ea6062" stroke-width="1"/>
<rect x="827.31" y="215.0" width="3" height="1.6" fill="#ea6062"/>
<line x1="832.38" y1="209.0" x2="832.38" y2="217.8" stroke="#40b0a0" stroke-width="1"/>
<rect x="830.88" y="212.5" width="3" height="4.5" fill="#40b0a0"/>
<line x1="835.94" y1="211.7" x2="835.94" y2="217.0" stroke="#ea6062" stroke-width="1"/>
<rect x="834.44" y="212.5" width="3" height="1.5" fill="#ea6062"/>
<line x1="839.51" y1="196.6" x2="839.51" y2="221.2" stroke="#40b0a0" stroke-width="1"/>
<rect x="838.01" y="203.3" width="3" height="10.7" fill="#40b0a0"/>
<line x1="843.08" y1="201.2" x2="843.08" y2="205.8" stroke="#ea6062" stroke-width="1"/>
<rect x="841.58" y="202.8" width="3" height="2.5" fill="#ea6062"/>
<path d="M6.0,458.8 C9.5,458.6 21.3,458.2 27.0,457.8 C32.7,457.4 34.2,456.9 40.0,456.4 C45.8,455.8 53.9,455.2 62.0,454.5 C70.1,453.8 81.0,452.9 88.5,451.9 C96.0,450.9 99.4,449.6 107.0,448.4 C114.6,447.1 125.0,445.6 134.0,444.4 C143.0,443.2 152.0,442.2 161.0,441.0 C170.0,439.8 179.1,438.8 188.0,437.4 C196.9,436.0 207.4,434.1 214.5,432.8 C221.6,431.5 223.8,431.2 230.6,429.8 C237.3,428.4 246.3,426.2 255.0,424.6 C263.7,423.1 270.5,422.5 283.0,420.5 C295.5,418.5 317.2,414.9 330.0,412.4 C342.8,409.9 351.0,407.7 360.0,405.5 C369.0,403.3 375.1,402.1 383.8,399.3 C392.5,396.5 403.8,392.3 412.1,388.9 C420.4,385.5 426.7,381.8 433.4,378.7 C440.1,375.6 446.8,373.1 452.3,370.5 C457.8,367.9 461.8,366.0 466.5,363.4 C471.2,360.8 476.7,358.1 480.6,355.1 C484.5,352.2 487.0,349.2 490.1,345.7 C493.2,342.2 496.4,337.2 499.5,333.9 C502.6,330.5 505.4,328.2 509.0,325.6 C512.5,323.0 516.1,320.9 520.8,318.5 C525.5,316.1 531.6,313.6 537.3,311.4 C543.0,309.1 549.0,307.1 555.0,305.0 C561.0,302.9 566.6,300.7 573.6,298.7 C580.6,296.7 589.3,294.7 597.2,292.8 C605.1,290.9 613.0,289.0 620.9,287.3 C628.8,285.6 636.6,283.9 644.5,282.5 C652.4,281.1 659.8,279.9 668.1,278.8 C676.4,277.7 686.2,276.8 694.1,276.0 C702.0,275.2 706.8,274.8 715.4,273.9 C724.0,273.0 737.8,271.9 745.7,270.8 C753.6,269.8 756.3,269.0 762.6,267.6 C768.9,266.2 777.2,264.1 783.4,262.6 C789.6,261.1 794.7,259.8 800.0,258.5 C805.3,257.2 810.4,255.9 815.0,254.9 C819.6,253.9 822.7,253.3 827.5,252.6 C832.3,251.9 841.1,250.8 843.8,250.5" fill="none" stroke="#3692b2" stroke-width="1.6"/>
<path d="M6.0,416.9 C11.7,416.6 29.3,415.7 40.0,414.9 C50.7,414.1 61.5,412.6 70.0,412.2 C78.5,411.8 84.8,412.1 91.0,412.7 C97.2,413.3 102.0,414.7 107.0,415.8 C112.0,416.9 116.5,418.5 121.0,419.4 C125.5,420.3 127.3,420.7 134.0,421.2 C140.7,421.7 150.8,422.0 161.0,422.6 C171.2,423.2 183.8,424.3 195.0,424.6 C206.2,424.9 220.3,424.4 228.0,424.2 C235.7,424.0 235.0,424.0 241.0,423.6 C247.0,423.2 257.7,422.4 264.0,421.6 C270.3,420.8 274.2,419.5 279.0,418.6 C283.8,417.7 287.6,417.3 292.8,416.2 C298.0,415.1 303.8,413.6 310.0,412.0 C316.2,410.4 323.6,408.6 330.0,406.6 C336.4,404.6 342.1,401.8 348.3,399.8 C354.5,397.8 360.1,396.9 367.2,394.6 C374.3,392.3 383.4,389.4 390.9,385.8 C398.4,382.2 405.0,377.5 412.1,372.8 C419.2,368.1 426.7,362.2 433.4,357.5 C440.1,352.8 446.8,348.4 452.3,344.5 C457.8,340.6 461.8,337.8 466.5,333.9 C471.2,330.0 476.7,325.0 480.6,320.9 C484.5,316.8 487.0,313.3 490.1,309.0 C493.2,304.7 496.4,298.8 499.5,294.9 C502.6,291.0 505.4,288.2 509.0,285.4 C512.5,282.6 516.1,280.8 520.8,278.3 C525.5,275.8 531.6,272.8 537.3,270.5 C543.0,268.2 549.0,266.6 555.0,264.5 C561.0,262.4 566.6,260.0 573.6,257.8 C580.6,255.6 589.3,253.4 597.2,251.4 C605.1,249.4 613.0,247.8 620.9,246.0 C628.8,244.2 637.4,242.2 644.5,240.8 C651.6,239.4 655.1,238.7 663.4,237.6 C671.7,236.5 685.4,235.3 694.1,234.5 C702.8,233.7 708.6,233.5 715.4,233.0 C722.2,232.5 729.2,231.9 735.0,231.3 C740.8,230.7 744.5,230.2 750.0,229.4 C755.5,228.6 762.4,227.4 768.0,226.5 C773.6,225.6 778.1,224.6 783.4,223.7 C788.7,222.8 794.7,221.7 800.0,220.8 C805.3,220.0 810.8,219.1 815.0,218.6 C819.2,218.1 820.2,218.0 825.0,217.8 C829.8,217.7 840.7,217.7 843.8,217.7" fill="none" stroke="#d9dbe1" stroke-width="1.8"/>
<line x1="230.5" y1="43" x2="230.5" y2="570.5" stroke="#9fcfe3" stroke-width="1.1"/>
<line x1="943.5" y1="43" x2="943.5" y2="570.5" stroke="#9fcfe3" stroke-width="1.1"/>
<path d="M6.0,263.13 L30.6,256.89 L55.1,250.72 L79.7,244.62 L104.3,238.59 L128.8,232.64 L153.4,226.76 L177.9,220.94 L202.5,215.20 L227.1,209.52 L251.6,203.91 L276.2,198.37 L300.8,192.90 L325.3,187.49 L349.9,182.15 L374.5,176.87 L399.0,171.66 L423.6,166.51 L448.2,161.42 L472.7,156.40 L497.3,151.43 L521.8,146.53 L546.4,141.69 L571.0,136.91 L595.5,132.19 L620.1,127.52 L644.7,122.92 L669.2,118.37 L693.8,113.88 L718.4,109.44 L742.9,105.06 L767.5,100.73 L792.1,96.46 L816.6,92.24 L841.2,88.08 L865.7,83.96 L890.3,79.90 L914.9,75.89 L939.4,71.93 L964.0,68.02" fill="none" stroke="#dc1a2a" stroke-width="1.9"/>
<path d="M6.0,481.55 L30.6,473.25 L55.1,465.04 L79.7,456.92 L104.3,448.89 L128.8,440.95 L153.4,433.09 L177.9,425.32 L202.5,417.63 L227.1,410.02 L251.6,402.48 L276.2,395.02 L300.8,387.64 L325.3,380.32 L349.9,373.07 L374.5,365.88 L399.0,358.76 L423.6,351.70 L448.2,344.70 L472.7,337.75 L497.3,330.86 L521.8,324.02 L546.4,317.23 L571.0,310.49 L595.5,303.79 L620.1,297.14 L644.7,290.52 L669.2,283.95 L693.8,277.41 L718.4,270.90 L742.9,264.43 L767.5,257.98 L792.1,251.57 L816.6,245.17 L841.2,238.80 L865.7,232.45 L890.3,226.12 L914.9,219.80 L939.4,213.50 L964.0,207.21" fill="none" stroke="#2fe02f" stroke-width="1.95"/>
<path d="M66.6,481.1 L72.3,474.1 L78.0,481.1 Z" fill="#fbec2a" stroke="#0b0d14" stroke-width="0.9" stroke-linejoin="round" paint-order="stroke"/>
<path d="M209.8,448.6 L215.5,441.6 L221.2,448.6 Z" fill="#fbec2a" stroke="#0b0d14" stroke-width="0.9" stroke-linejoin="round" paint-order="stroke"/>
<path d="M697.9,293.6 L703.6,286.6 L709.3000000000001,293.6 Z" fill="#fbec2a" stroke="#0b0d14" stroke-width="0.9" stroke-linejoin="round" paint-order="stroke"/>
<path d="M894.0999999999999,249.3 L899.8,242.3 L905.5,249.3 Z" fill="#fbec2a" stroke="#0b0d14" stroke-width="0.9" stroke-linejoin="round" paint-order="stroke"/>
</g>
<line x1="965.5" y1="43" x2="965.5" y2="598" stroke="#767a86" stroke-width="1" shape-rendering="crispEdges"/>
<line x1="6" y1="570.5" x2="1037.6" y2="570.5" stroke="#767a86" stroke-width="1" shape-rendering="crispEdges"/>
<clipPath id="cpa"><rect x="6" y="43" width="1031.6" height="555"/></clipPath>
<g font-family="Liberation Sans, sans-serif" font-size="12.3" fill="#c6c9d1" stroke="#c6c9d1" stroke-width="0.45" clip-path="url(#cpa)">
<line x1="965.5" y1="46.5" x2="969.0" y2="46.5" stroke="#636772" stroke-width="1" shape-rendering="crispEdges"/>
<text x="974.1" y="50.9" textLength="55.3" lengthAdjust="spacingAndGlyphs">100000.00</text>
<line x1="965.5" y1="80.4" x2="969.0" y2="80.4" stroke="#636772" stroke-width="1" shape-rendering="crispEdges"/>
<text x="974.1" y="85.7" textLength="48.9" lengthAdjust="spacingAndGlyphs">60000.00</text>
<line x1="965.5" y1="115.4" x2="969.0" y2="115.4" stroke="#636772" stroke-width="1" shape-rendering="crispEdges"/>
<text x="974.1" y="120.7" textLength="48.9" lengthAdjust="spacingAndGlyphs">36000.00</text>
<line x1="965.5" y1="151.4" x2="969.0" y2="151.4" stroke="#636772" stroke-width="1" shape-rendering="crispEdges"/>
<text x="974.1" y="156.7" textLength="48.9" lengthAdjust="spacingAndGlyphs">21000.00</text>
<line x1="965.5" y1="183.4" x2="969.0" y2="183.4" stroke="#636772" stroke-width="1" shape-rendering="crispEdges"/>
<text x="974.1" y="188.7" textLength="48.9" lengthAdjust="spacingAndGlyphs">13000.00</text>
<line x1="965.5" y1="215.4" x2="969.0" y2="215.4" stroke="#636772" stroke-width="1" shape-rendering="crispEdges"/>
<text x="974.1" y="220.7" textLength="42.6" lengthAdjust="spacingAndGlyphs">8000.00</text>
<line x1="965.5" y1="247.4" x2="969.0" y2="247.4" stroke="#636772" stroke-width="1" shape-rendering="crispEdges"/>
<text x="974.1" y="252.7" textLength="42.6" lengthAdjust="spacingAndGlyphs">5000.00</text>
<line x1="965.5" y1="281.6" x2="969.0" y2="281.6" stroke="#636772" stroke-width="1" shape-rendering="crispEdges"/>
<text x="974.1" y="286.9" textLength="42.6" lengthAdjust="spacingAndGlyphs">3000.00</text>
<line x1="965.5" y1="315.8" x2="969.0" y2="315.8" stroke="#636772" stroke-width="1" shape-rendering="crispEdges"/>
<text x="974.1" y="321.1" textLength="42.6" lengthAdjust="spacingAndGlyphs">1800.00</text>
<line x1="965.5" y1="354.5" x2="969.0" y2="354.5" stroke="#636772" stroke-width="1" shape-rendering="crispEdges"/>
<text x="974.1" y="359.8" textLength="42.6" lengthAdjust="spacingAndGlyphs">1000.00</text>
<line x1="965.5" y1="388.5" x2="969.0" y2="388.5" stroke="#636772" stroke-width="1" shape-rendering="crispEdges"/>
<text x="974.1" y="393.8" textLength="36.2" lengthAdjust="spacingAndGlyphs">600.00</text>
<line x1="965.5" y1="423.8" x2="969.0" y2="423.8" stroke="#636772" stroke-width="1" shape-rendering="crispEdges"/>
<text x="974.1" y="429.1" textLength="36.2" lengthAdjust="spacingAndGlyphs">360.00</text>
<line x1="965.5" y1="455.8" x2="969.0" y2="455.8" stroke="#636772" stroke-width="1" shape-rendering="crispEdges"/>
<text x="974.1" y="461.1" textLength="36.2" lengthAdjust="spacingAndGlyphs">220.00</text>
<line x1="965.5" y1="486.9" x2="969.0" y2="486.9" stroke="#636772" stroke-width="1" shape-rendering="crispEdges"/>
<text x="974.1" y="492.2" textLength="36.2" lengthAdjust="spacingAndGlyphs">140.00</text>
<line x1="965.5" y1="523.6" x2="969.0" y2="523.6" stroke="#636772" stroke-width="1" shape-rendering="crispEdges"/>
<text x="974.1" y="528.9" textLength="29.8" lengthAdjust="spacingAndGlyphs">80.00</text>
<line x1="965.5" y1="556.2" x2="969.0" y2="556.2" stroke="#636772" stroke-width="1" shape-rendering="crispEdges"/>
<text x="974.1" y="561.5" textLength="29.8" lengthAdjust="spacingAndGlyphs">50.00</text>
</g>
<rect x="965" y="195.5" width="60.5" height="17.5" fill="#ee5451"/>
<line x1="965.5" y1="204.5" x2="969.5" y2="204.5" stroke="#fff" shape-rendering="crispEdges"/>
<text x="974.1" y="208.6" font-family="Liberation Sans, sans-serif" font-size="12.3" fill="#fff" stroke="#fff" stroke-width="0.4" textLength="42.6" lengthAdjust="spacingAndGlyphs">9432.40</text>
<g font-family="Liberation Sans, sans-serif" font-size="12" fill="#d0d3da" text-anchor="middle">
<line x1="41.4" y1="570.5" x2="41.4" y2="574.5" stroke="#767a86" shape-rendering="crispEdges"/>
<text x="41.4" y="590.8" stroke="#d0d3da" stroke-width="0.45">Jul</text>
<line x1="134.2" y1="570.5" x2="134.2" y2="574.5" stroke="#767a86" shape-rendering="crispEdges"/>
<text x="134.2" y="590.8" font-weight="bold" fill="#e4e6ec">2016</text>
<line x1="319.2" y1="570.5" x2="319.2" y2="574.5" stroke="#767a86" shape-rendering="crispEdges"/>
<text x="319.2" y="590.8" font-weight="bold" fill="#e4e6ec">2017</text>
<line x1="412" y1="570.5" x2="412" y2="574.5" stroke="#767a86" shape-rendering="crispEdges"/>
<text x="412" y="590.8" stroke="#d0d3da" stroke-width="0.45">Jul</text>
<line x1="505.5" y1="570.5" x2="505.5" y2="574.5" stroke="#767a86" shape-rendering="crispEdges"/>
<text x="505.5" y="590.8" font-weight="bold" fill="#e4e6ec">2018</text>
<line x1="597.3" y1="570.5" x2="597.3" y2="574.5" stroke="#767a86" shape-rendering="crispEdges"/>
<text x="597.3" y="590.8" stroke="#d0d3da" stroke-width="0.45">Jul</text>
<line x1="693.9" y1="570.5" x2="693.9" y2="574.5" stroke="#767a86" shape-rendering="crispEdges"/>
<text x="693.9" y="590.8" font-weight="bold" fill="#e4e6ec">2019</text>
<line x1="783.5" y1="570.5" x2="783.5" y2="574.5" stroke="#767a86" shape-rendering="crispEdges"/>
<text x="783.5" y="590.8" stroke="#d0d3da" stroke-width="0.45">Jul</text>
<line x1="879.5" y1="570.5" x2="879.5" y2="574.5" stroke="#767a86" shape-rendering="crispEdges"/>
<text x="879.5" y="590.8" font-weight="bold" fill="#e4e6ec">2020</text>
</g>
<rect x="199.1" y="570.4" width="62.0" height="24.2" fill="#84cfe0"/>
<line x1="230.5" y1="570.5" x2="230.5" y2="575.0" stroke="#131722" stroke-width="1"/>
<text x="206.2" y="587.3" font-family="Liberation Sans, sans-serif" font-size="12" fill="#174a5e" stroke="#174a5e" stroke-width="0.25" textLength="48.9" lengthAdjust="spacingAndGlyphs">11 Jul '16</text>
<rect x="898.2" y="570.4" width="66.0" height="24.2" fill="#84cfe0"/>
<line x1="943.5" y1="570.5" x2="943.5" y2="575.0" stroke="#131722" stroke-width="1"/>
<text x="906.2" y="587.3" font-family="Liberation Sans, sans-serif" font-size="12" fill="#174a5e" stroke="#174a5e" stroke-width="0.25" textLength="53.6" lengthAdjust="spacingAndGlyphs">11 May '20</text>
<text x="15" y="64.9" font-family="Liberation Sans, sans-serif" font-size="12" font-weight="bold" fill="#e0e3ea" textLength="283" lengthAdjust="spacingAndGlyphs">BraveNewCoin Liquid Index for Bitcoin, 1W, BNC</text>
<text x="15" y="81" font-family="Liberation Sans, sans-serif" font-size="12" fill="#e0e3ea" textLength="132" lengthAdjust="spacingAndGlyphs">Ichimoku (9, 26, 52, 26)</text>
<g font-family="Liberation Sans, sans-serif" font-size="12.4">
<text x="6" y="17" fill="#3bacd6" textLength="45.3" lengthAdjust="spacingAndGlyphs">valdrint</text>
<text x="55.5" y="17" fill="#000" textLength="352.5" lengthAdjust="spacingAndGlyphs">published on TradingView.com, October 30, 2019 14:57:47 CET</text>
</g>
<g font-family="Liberation Sans, sans-serif" font-size="12">
<text x="6.3" y="33.8" fill="#000" font-weight="bold" textLength="75.5" lengthAdjust="spacingAndGlyphs">BNC:BLX, 1W</text>
<text x="88.3" y="33.8" fill="#000" textLength="45.7" lengthAdjust="spacingAndGlyphs">9432.40</text>
<path d="M137.1,34.9 L142.45,24.1 L147.8,34.9 Z" fill="#22a022"/>
<text x="151" y="33.8" fill="#000" textLength="98" lengthAdjust="spacingAndGlyphs">+216.79 (+2.35%)</text>
<text x="254" y="33.8" fill="#000" font-weight="bold" textLength="12.5" lengthAdjust="spacingAndGlyphs">O:</text>
<text x="267" y="33.8" fill="#2aa62a" textLength="47" lengthAdjust="spacingAndGlyphs">9557.10</text>
<text x="318.5" y="33.8" fill="#000" font-weight="bold" textLength="12.0" lengthAdjust="spacingAndGlyphs">H:</text>
<text x="331" y="33.8" fill="#2aa62a" textLength="46.5" lengthAdjust="spacingAndGlyphs">9921.58</text>
<text x="382" y="33.8" fill="#000" font-weight="bold" textLength="9.5" lengthAdjust="spacingAndGlyphs">L:</text>
<text x="392" y="33.8" fill="#2aa62a" textLength="46.5" lengthAdjust="spacingAndGlyphs">9112.57</text>
<text x="443" y="33.8" fill="#000" font-weight="bold" textLength="11.5" lengthAdjust="spacingAndGlyphs">C:</text>
<text x="455" y="33.8" fill="#2aa62a" textLength="46" lengthAdjust="spacingAndGlyphs">9432.40</text>
</g>
<text x="6" y="622" font-family="Liberation Sans, sans-serif" font-size="12.4" fill="#000" textLength="73.2" lengthAdjust="spacingAndGlyphs">Created with</text>
<text x="106" y="622" font-family="Liberation Sans, sans-serif" font-size="12.4" fill="#4ba6d0" textLength="70" lengthAdjust="spacingAndGlyphs">TradingView</text>
<g transform="translate(82,608)">
<g fill="#41b3e2"><circle cx="10.8" cy="8.1" r="6.2"/><circle cx="3.8" cy="11.9" r="3.95"/><circle cx="19.3" cy="12" r="3.85"/><rect x="3.8" y="9.5" width="15.5" height="6.35"/></g>
<path d="M16.2,3 L21,8.3 L24,6 L24,1 Z" fill="#fff"/>
<path d="M1.3,13.7 L8.5,6.6 L13.8,14 L20.6,6.4" fill="none" stroke="#eafcff" stroke-width="1.6" stroke-linejoin="miter"/>
</g>
</svg>
</body></html>
